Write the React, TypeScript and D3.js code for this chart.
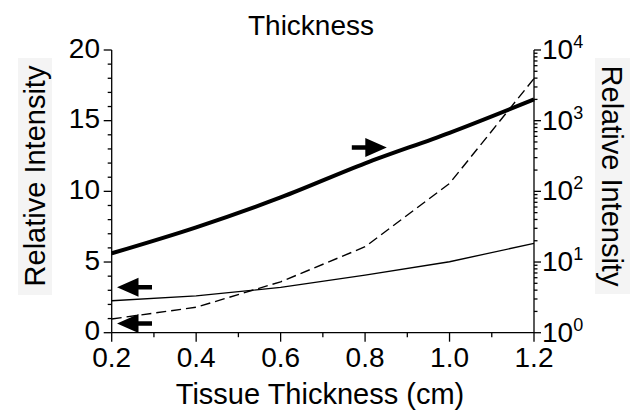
import React from "react";
import * as d3 from "d3";

// thickness (cm)
const thickness = [0.2, 0.4, 0.6, 0.8, 1.0, 1.2];
// thick solid line, read on the right (log) axis
const thickSeries = [13.3, 31, 82, 249, 674, 2000];
// thin solid line, left axis
const thinSeries = [2.26, 2.61, 3.2, 4.08, 5.02, 6.32];
// dashed line, left axis
const dashedSeries = [0.97, 1.8, 3.6, 6.08, 10.56, 17.98];

const xTicks = [0.2, 0.4, 0.6, 0.8, 1.0, 1.2];
const xMinor = [0.3, 0.5, 0.7, 0.9, 1.1];
const leftTicks = [0, 5, 10, 15, 20];
const rightExp = [0, 1, 2, 3, 4];

// arrows: [x, y on left scale, direction]
const arrows: [number, number, number][] = [
  [0.81, 13.1, 1],
  [0.254, 3.22, -1],
  [0.254, 0.65, -1],
];

const W = 630;
const H = 413;
const font = "'Liberation Sans', Arial, sans-serif";

const Arrow = ({ cx, cy, dir }: { cx: number; cy: number; dir: number }) => {
  // drawn pointing right, mirrored for left
  const pts = [
    [-17.5, -2.2],
    [-4, -2.2],
    [-4, -9.5],
    [17.5, 0],
    [-4, 9.5],
    [-4, 2.2],
    [-17.5, 2.2],
  ];
  const d = "M" + pts.map(p => `${cx + dir * p[0]},${cy + p[1]}`).join("L") + "Z";
  return <path d={d} fill="black" />;
};

export default function App() {
  const x = d3.scaleLinear().domain([0.2, 1.2]).range([111.7, 534]);
  const yL = d3.scaleLinear().domain([0, 20]).range([332.7, 50]);
  const yR = d3.scaleLog().domain([1, 10000]).range([332.7, 50]);

  const thickLine = d3
    .line<number>()
    .x((_, i) => x(thickness[i]))
    .y(d => yR(d))
    .curve(d3.curveMonotoneX);
  const leftLine = d3
    .line<number>()
    .x((_, i) => x(thickness[i]))
    .y(d => yL(d));

  const leftMinor = d3.range(0, 21).filter(v => v % 5 !== 0);
  const rightMinor: number[] = [];
  for (let e = 0; e < 4; e++) for (let m = 2; m <= 9; m++) rightMinor.push(m * Math.pow(10, e));

  const x0 = x.range()[0];
  const x1 = x.range()[1];
  const yb = yL.range()[0];
  const yt = yL.range()[1];

  return (
    <svg width={W} height={H} style={{ position: "absolute", left: 0, top: 0, background: "white" }} fontFamily={font}>
      {/* title */}
      <text x={311} y={35} fontSize={28} textAnchor="middle">Thickness</text>

      {/* axis title backgrounds */}
      <rect x={18} y={58} width={34} height={237} fill="#f4f4f4" />
      <rect x={595} y={58} width={35} height={236} fill="#f4f4f4" />
      <text transform={`translate(45,176) rotate(-90)`} fontSize={29} textAnchor="middle">Relative Intensity</text>
      <text transform={`translate(602,176) rotate(90)`} fontSize={29} textAnchor="middle">Relative Intensity</text>

      {/* axes lines */}
      <g stroke="black" strokeWidth={1.3} fill="none">
        <line x1={x0} x2={x0} y1={yt} y2={yb} />
        <line x1={x1} x2={x1} y1={yt} y2={yb} />
        <line x1={x0} x2={x1} y1={yb} y2={yb} />
        {leftTicks.map(v => (
          <line key={"lt" + v} x1={x0 - 8} x2={x0} y1={yL(v)} y2={yL(v)} />
        ))}
        {leftMinor.map(v => (
          <line key={"lm" + v} x1={x0 - 4} x2={x0} y1={yL(v)} y2={yL(v)} />
        ))}
        {rightExp.map(e => (
          <line key={"rt" + e} x1={x1} x2={x1 + 7} y1={yR(Math.pow(10, e))} y2={yR(Math.pow(10, e))} />
        ))}
        {rightMinor.map(v => (
          <line key={"rm" + v} x1={x1} x2={x1 + 3.5} y1={yR(v)} y2={yR(v)} />
        ))}
        {xTicks.map(v => (
          <line key={"xt" + v} x1={x(v)} x2={x(v)} y1={yb} y2={yb + 9} />
        ))}
        {xMinor.map(v => (
          <line key={"xm" + v} x1={x(v)} x2={x(v)} y1={yb} y2={yb + 4.5} />
        ))}
      </g>

      {/* tick labels */}
      {leftTicks.map(v => (
        <text key={"ll" + v} x={100} y={yL(v) + 7.5} fontSize={28} textAnchor="end">{v}</text>
      ))}
      {rightExp.map(e => (
        <text key={"rl" + e} x={542} y={yR(Math.pow(10, e)) + 9} fontSize={28}>
          10<tspan fontSize={18} dy={-11}>{e}</tspan>
        </text>
      ))}
      {xTicks.map(v => (
        <text key={"xl" + v} x={x(v)} y={367} fontSize={28} textAnchor="middle">{d3.format(".1f")(v)}</text>
      ))}
      <text x={320} y={404} fontSize={29} textAnchor="middle">Tissue Thickness (cm)</text>

      {/* series */}
      <path d={leftLine(thinSeries) || ""} fill="none" stroke="black" strokeWidth={1.3} />
      <path d={leftLine(dashedSeries) || ""} fill="none" stroke="black" strokeWidth={1.4} strokeDasharray="10,5" />
      <path d={thickLine(thickSeries) || ""} fill="none" stroke="black" strokeWidth={4} />

      {arrows.map((a, i) => (
        <Arrow key={i} cx={x(a[0])} cy={yL(a[1])} dir={a[2]} />
      ))}
    </svg>
  );
}
